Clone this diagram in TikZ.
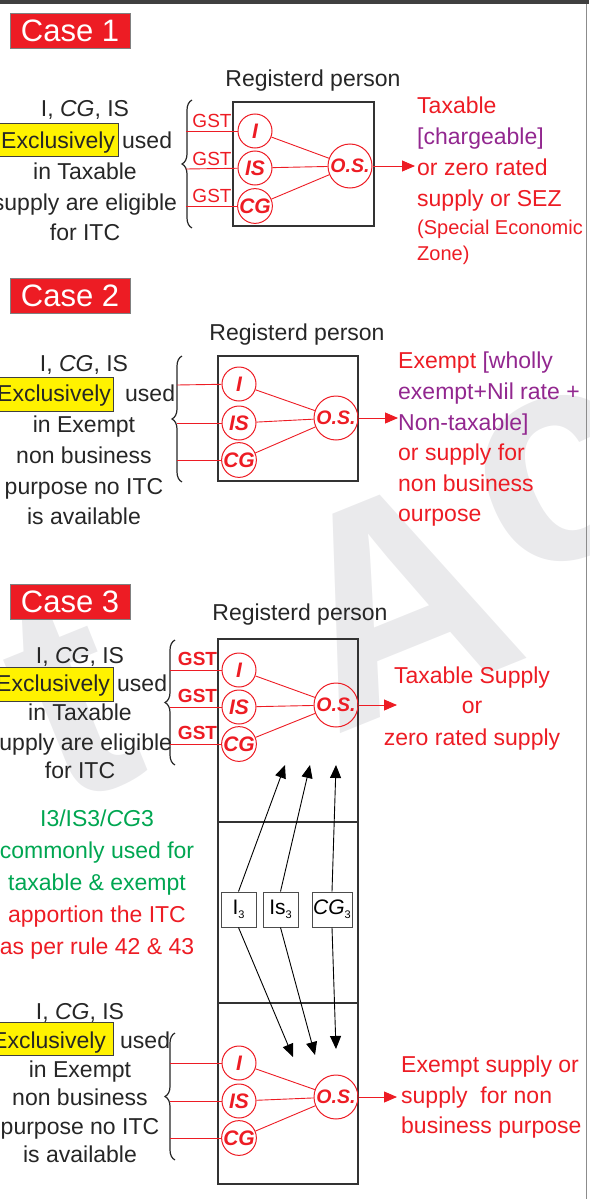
\documentclass[tikz,border=0pt]{standalone}
\usepackage{fontspec}
\setmainfont{Liberation Sans}
\usetikzlibrary{arrows.meta,decorations.pathreplacing}
\definecolor{cred}{HTML}{ED1C24}
\definecolor{cpurple}{HTML}{92278F}
\definecolor{cgreen}{HTML}{00A651}
\definecolor{cyellow}{HTML}{FFF200}
\definecolor{boxgray}{HTML}{333333}
\definecolor{wmgray}{HTML}{EAEAEC}
\begin{document}
\begin{tikzpicture}[x=1pt,y=-1pt,
  txt/.style={font=\fontsize{23}{28}\selectfont, inner sep=0, anchor=base, text=black!85},
  txtw/.style={txt, anchor=base west},
  rtxt/.style={txtw, text=cred},
  small/.style={font=\fontsize{20}{24}\selectfont},
  hlbox/.style={fill=cyellow, draw=black!75, line width=0.8},
  casebox/.style={fill=cred, draw=gray, line width=0.8, text=white,
    font=\fontsize{31}{31}\selectfont, minimum width=120, minimum height=35, inner sep=0},
  circ/.style={circle, draw=cred, line width=1, minimum size=34, inner sep=0, text=cred,
    font=\fontsize{21}{21}\selectfont\bfseries\itshape},
  os/.style={circ, minimum size=44, font=\fontsize{19.5}{19.5}\selectfont\bfseries\itshape},
  lnk/.style={draw=cred, line width=0.9},
  outarr/.style={draw=cred, line width=0.9, -{Triangle[length=13pt,width=11pt]}, cred},
  blkarr/.style={draw=black, line width=0.9, -{Triangle[length=13pt,width=11pt]}},
  frame/.style={draw=boxgray, line width=1.1},
  brc/.style={draw=black!85, line width=1.2, decorate, decoration={brace, amplitude=10pt}},
  gst/.style={text=cred, font=\fontsize{19}{19}\selectfont, inner sep=0, anchor=base},
  gstb/.style={gst, font=\fontsize{19}{19}\selectfont\bfseries},
  subbox/.style={draw=black!70, line width=1, minimum width=35, minimum height=35, inner sep=0,
    font=\fontsize{21}{21}\selectfont},
  wm/.style={text=wmgray, font=\fontsize{300}{300}\selectfont\bfseries, rotate=22, inner sep=0}
]
\useasboundingbox (0,0) rectangle (589,1199);

% faint background lettering
\node[wm] (wm1) at (70,700) {t};
\node[wm] (wm2) at (395,600) {A};
\node[wm] (wm3) at (560,480) {c};

% page edges
\fill[black!75] (0,0) rectangle (589,4);
\draw[black!45, line width=1.5] (586.5,4) -- (586.5,1199);

% ================= Case 1 =================
\node[casebox] (case1) at (70,30.5) {Case 1};
\node[txt] (reg1) at (313,86) {Registerd person};

\node[txt] (l1a) at (85,116) {I, \textit{CG}, IS};
\draw[hlbox] (-3,123) rectangle (118,156);
\node[txtw] (l1b) at (1,148) {Exclusively};
\node[txtw] (l1bu) at (122,148) {used};
\node[txt] (l1c) at (85,179) {in Taxable};
\node[txt] (l1d) at (85,210) {supply are eligible};
\node[txt] (l1e) at (85,240) {for ITC};

\draw[brc] (192,228) -- (192,100);
\coordinate (b1a) at (186,131);
\coordinate (b1b) at (186,169);
\coordinate (b1c) at (186,206);

\draw[frame] (233,102) rectangle (374,226);
\node[circ] (c1i) at (255,131) {I};
\node[circ] (c1is) at (255,168) {IS};
\node[circ] (c1cg) at (255,206) {CG};
\node[os] (c1os) at (350,166) {O.S.};
\draw[lnk] (b1a) -- (c1i);
\draw[lnk] (b1b) -- (c1is);
\draw[lnk] (b1c) -- (c1cg);
\node[gst] (g1a) at (212,127) {GST};
\node[gst] (g1b) at (212,165) {GST};
\node[gst] (g1c) at (212,202) {GST};
\draw[lnk] (c1i) -- (c1os);
\draw[lnk] (c1is) -- (c1os);
\draw[lnk] (c1cg) -- (c1os);
\coordinate (e1) at (415,166);
\draw[outarr] (c1os) -- (e1);

\node[rtxt] (r1a) at (417,113) {Taxable};
\node[rtxt, text=cpurple] (r1b) at (417,144) {[chargeable]};
\node[rtxt] (r1c) at (417,175) {or zero rated};
\node[rtxt] (r1d) at (417,206) {supply or SEZ};
\node[rtxt, small] (r1e) at (417,234) {(Special Economic};
\node[rtxt, small] (r1f) at (417,260) {Zone)};

% ================= Case 2 =================
\node[casebox] (case2) at (70,295.5) {Case 2};
\node[txt] (reg2) at (297,340) {Registerd person};

\node[txt] (l2a) at (84,371) {I, \textit{CG}, IS};
\draw[hlbox] (-3,377) rectangle (113,411);
\node[txtw] (l2b) at (-3,401) {Exclusively};
\node[txtw] (l2bu) at (125,401) {used};
\node[txt] (l2c) at (84,432) {in Exempt};
\node[txt] (l2d) at (84,463) {non business};
\node[txt] (l2e) at (84,494) {purpose no ITC};
\node[txt] (l2f) at (84,524) {is available};

\draw[brc] (182,482) -- (182,356);
\coordinate (b2a) at (177,385);
\coordinate (b2b) at (177,423);
\coordinate (b2c) at (177,460);

\draw[frame] (218,356) rectangle (358,481);
\node[circ] (c2i) at (239,384) {I};
\node[circ] (c2is) at (239,423) {IS};
\node[circ] (c2cg) at (239,460) {CG};
\node[os] (c2os) at (336,418) {O.S.};
\draw[lnk] (b2a) -- (c2i);
\draw[lnk] (b2b) -- (c2is);
\draw[lnk] (b2c) -- (c2cg);
\draw[lnk] (c2i) -- (c2os);
\draw[lnk] (c2is) -- (c2os);
\draw[lnk] (c2cg) -- (c2os);
\coordinate (e2) at (398,418);
\draw[outarr] (c2os) -- (e2);

\node[rtxt] (r2a) at (398,368) {Exempt \textcolor{cpurple}{[wholly}};
\node[rtxt, text=cpurple] (r2b) at (398,399) {exempt+Nil rate +};
\node[rtxt, text=cpurple] (r2c) at (398,430) {Non-taxable]};
\node[rtxt] (r2d) at (398,460) {or supply for};
\node[rtxt] (r2e) at (398,491) {non business};
\node[rtxt] (r2f) at (398,521) {ourpose};

% ================= Case 3 =================
\node[casebox] (case3) at (70,602) {Case 3};
\node[txt] (reg3) at (300,620) {Registerd person};

\node[txt] (l3a) at (80,663) {I, \textit{CG}, IS};
\draw[hlbox] (-3,667) rectangle (113,701);
\node[txtw] (l3b) at (-4,691) {Exclusively};
\node[txtw] (l3bu) at (117,691) {used};
\node[txt] (l3c) at (80,720) {in Taxable};
\node[txt] (l3d) at (80,750) {supply are eligible};
\node[txt] (l3e) at (80,778) {for ITC};

\draw[brc] (175,765) -- (175,640);
\coordinate (b3a) at (170,670);
\coordinate (b3b) at (170,707);
\coordinate (b3c) at (170,744);

% tall frame with its two dividers
\draw[frame] (218,639) rectangle (358,1184);
\draw[frame] (218,822) -- (358,822);
\draw[frame] (218,1003) -- (358,1003);

\node[circ] (c3i) at (239,670) {I};
\node[circ] (c3is) at (239,707) {IS};
\node[circ] (c3cg) at (239,744) {CG};
\node[os] (c3os) at (336,705) {O.S.};
\draw[lnk] (b3a) -- (c3i);
\draw[lnk] (b3b) -- (c3is);
\draw[lnk] (b3c) -- (c3cg);
\node[gstb] (g3a) at (197.5,665) {GST};
\node[gstb] (g3b) at (197.5,702) {GST};
\node[gstb] (g3c) at (197.5,739) {GST};
\draw[lnk] (c3i) -- (c3os);
\draw[lnk] (c3is) -- (c3os);
\draw[lnk] (c3cg) -- (c3os);
\coordinate (e3) at (397,705);
\draw[outarr] (c3os) -- (e3);

\node[txt, text=cred] (r3a) at (472,683) {Taxable Supply};
\node[txt, text=cred] (r3b) at (472,713) {or};
\node[txt, text=cred] (r3c) at (472,745) {zero rated supply};

% common-use credits
\node[txt, text=cgreen] (m1) at (97,826) {I3/IS3/\textit{CG}3};
\node[txt, text=cgreen] (m2) at (97,858) {commonly used for};
\node[txt, text=cgreen] (m3) at (97,890) {taxable \& exempt};
\node[txt, text=cred] (m4) at (97,922) {apportion the ITC};
\node[txt, text=cred] (m5) at (97,954) {as per rule 42 \& 43};

\node[subbox] (s1) at (238.5,909.5) {I\raisebox{-4pt}{\fontsize{11}{11}\selectfont 3}};
\node[subbox] (s2) at (280.5,909.5) {Is\raisebox{-4pt}{\fontsize{11}{11}\selectfont 3}};
\node[subbox, minimum width=40] (s3) at (332,909.5) {\textit{CG}\raisebox{-4pt}{\fontsize{11}{11}\selectfont 3}};

\coordinate (u1) at (285,765);
\coordinate (u2) at (310,765);
\coordinate (u3) at (336,765);
\coordinate (d1) at (293,1057);
\coordinate (d2) at (315,1055);
\coordinate (d3) at (336,1049);
\draw[blkarr] (s1.north) -- (u1);
\draw[blkarr] (s2.north) -- (u2);
\draw[blkarr] (s3.north) -- (u3);
\draw[blkarr] (s1.south) -- (d1);
\draw[blkarr] (s2.south) -- (d2);
\draw[blkarr] (s3.south) -- (d3);

% lower part of case 3
\node[txt] (l4a) at (80,1019) {I, \textit{CG}, IS};
\draw[hlbox] (-3,1022) rectangle (113,1055);
\node[txtw] (l4b) at (-8,1048) {Exclusively};
\node[txtw] (l4bu) at (120,1048) {used};
\node[txt] (l4c) at (80,1077) {in Exempt};
\node[txt] (l4d) at (80,1105) {non business};
\node[txt] (l4e) at (80,1134) {purpose no ITC};
\node[txt] (l4f) at (80,1162) {is available};

\draw[brc] (175,1160) -- (175,1033);
\coordinate (b4a) at (170,1063);
\coordinate (b4b) at (170,1101);
\coordinate (b4c) at (170,1138);

\node[circ] (c4i) at (239,1063) {I};
\node[circ] (c4is) at (239,1101) {IS};
\node[circ] (c4cg) at (239,1138) {CG};
\node[os] (c4os) at (336,1097) {O.S.};
\draw[lnk] (b4a) -- (c4i);
\draw[lnk] (b4b) -- (c4is);
\draw[lnk] (b4c) -- (c4cg);
\draw[lnk] (c4i) -- (c4os);
\draw[lnk] (c4is) -- (c4os);
\draw[lnk] (c4cg) -- (c4os);
\coordinate (e4) at (397,1097);
\draw[outarr] (c4os) -- (e4);

\node[rtxt] (r4a) at (401,1072) {Exempt supply or};
\node[rtxt] (r4b) at (401,1103) {supply\ \ for non};
\node[rtxt] (r4c) at (401,1133) {business purpose};
\end{tikzpicture}
\end{document}
